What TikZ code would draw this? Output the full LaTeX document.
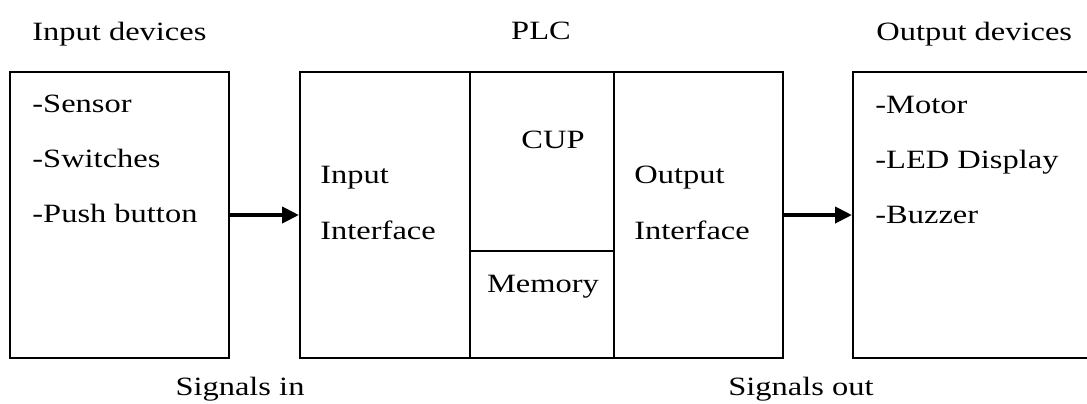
\documentclass[tikz,border=0pt]{standalone}
\usepackage{fontspec}
\setmainfont[FakeStretch=1.23]{Liberation Serif}
\usetikzlibrary{arrows.meta}

\begin{document}
\begin{tikzpicture}[x=0.5pt,y=-0.5pt,>={Triangle[length=8.5pt,width=8pt]},
  box/.style={draw,line width=1pt,inner sep=0pt},
  lbl/.style={inner sep=0pt,anchor=base west},
  sig/.style={->,line width=2pt}]
  \useasboundingbox (0,0) rectangle (1087,403);
  \fontsize{13.2}{15}\selectfont
  % Kaesten
  \node[box,minimum width=109.5pt,minimum height=143pt] (indev) at (119.5,215) {};
  \node[box,minimum width=85pt,minimum height=143pt] (inif) at (385,215) {};
  \node[box,minimum width=72pt,minimum height=89.5pt] (cpu) at (542,161.5) {};
  \node[box,minimum width=72pt,minimum height=53.5pt] (mem) at (542,304.5) {};
  \node[box,minimum width=84.5pt,minimum height=143pt] (outif) at (698.5,215) {};
  \node[box,minimum width=128.5pt,minimum height=143pt] (outdev) at (981.5,215) {};
  % Ueberschriften
  \node[lbl] (intitle) at (32,40) {Input devices};
  \node[lbl,anchor=base] (plctitle) at (541,39) {PLC};
  \node[lbl] (outtitle) at (876,40) {Output devices};
  % Eingabegeraete
  \node[lbl] (sensor) at (32,112) {-Sensor};
  \node[lbl] (switches) at (32,167) {-Switches};
  \node[lbl] (button) at (32,222) {-Push button};
  % SPS
  \node[lbl] (inifa) at (320,183) {Input};
  \node[lbl] (inifb) at (320,239) {Interface};
  \node[lbl,anchor=base] (cpulbl) at (553,148) {CUP};
  \node[lbl,anchor=base] (memlbl) at (543,292) {Memory};
  \node[lbl] (outifa) at (634,183) {Output};
  \node[lbl] (outifb) at (634,239) {Interface};
  % Ausgabegeraete
  \node[lbl] (motor) at (875,113) {-Motor};
  \node[lbl] (display) at (875,168) {-LED Display};
  \node[lbl] (buzzer) at (875,223) {-Buzzer};
  % Signale
  \draw[sig] (indev.east) -- (inif.west);
  \draw[sig] (outif.east) -- (outdev.west);
  \node[lbl,anchor=base] (sigin) at (240,395) {Signals in};
  \node[lbl,anchor=base] (sigout) at (801,395) {Signals out};
\end{tikzpicture}
\end{document}
